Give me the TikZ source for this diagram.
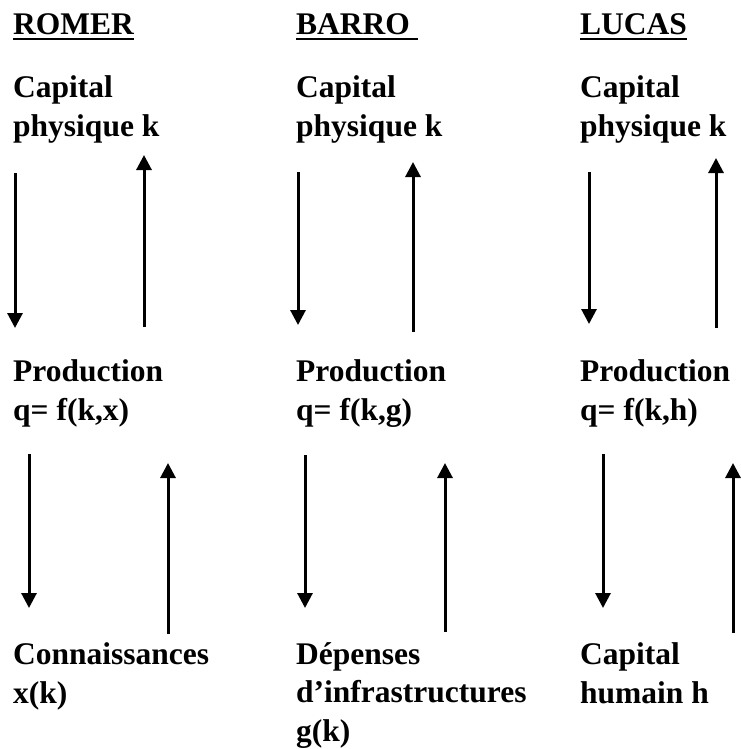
\documentclass[tikz,border=0pt]{standalone}
\usepackage{fontspec}
\setmainfont{Liberation Serif}
\usetikzlibrary{arrows.meta}

\newcommand\souligne[1]{\setbox0\hbox{#1}\rlap{\rule[-5.5pt]{\wd0}{2.6pt}}\box0}

\begin{document}
\begin{tikzpicture}[x=1pt,y=-1pt,
    txt/.style={anchor=base west,inner sep=0pt,align=left,
        font=\bfseries\fontsize{31.5}{38.5}\selectfont},
    fleche/.style={line width=3pt,-{Triangle[width=15pt,length=15pt]}}]
    \useasboundingbox (0,0) rectangle (740,749);

    % titres
    \node[txt] (romer) at (13,35) {\souligne{ROMER}};
    \node[txt] (barro) at (296,35) {\souligne{BARRO~}};
    \node[txt] (lucas) at (580,35) {\souligne{LUCAS}};

    % capital physique (base = derniere ligne)
    \node[txt] (r-k) at (13,136) {Capital\\physique k};
    \node[txt] (b-k) at (296,136) {Capital\\physique k};
    \node[txt] (l-k) at (580,136) {Capital\\physique k};

    % production
    \node[txt] (r-q) at (13,420) {Production\\q= f(k,x)};
    \node[txt] (b-q) at (296,420) {Production\\q= f(k,g)};
    \node[txt] (l-q) at (580,420) {Production\\q= f(k,h)};

    % facteurs
    \node[txt] (r-x) at (13,703) {Connaissances\\x(k)};
    \node[txt] (b-g) at (296,741) {Dépenses\\d’infrastructures\\g(k)};
    \node[txt] (l-h) at (580,703) {Capital\\humain h};

    % ROMER
    \coordinate (r1) at (15,173);  \coordinate (r2) at (15,328);
    \coordinate (r3) at (144,327); \coordinate (r4) at (144,155);
    \coordinate (r5) at (29,454);  \coordinate (r6) at (29,608);
    \coordinate (r7) at (168,634); \coordinate (r8) at (168,463);
    \draw[fleche] (r1) -- (r2);
    \draw[fleche] (r3) -- (r4);
    \draw[fleche] (r5) -- (r6);
    \draw[fleche] (r7) -- (r8);

    % BARRO
    \coordinate (b1) at (298,172); \coordinate (b2) at (298,325);
    \coordinate (b3) at (413,332); \coordinate (b4) at (413,162);
    \coordinate (b5) at (305,455); \coordinate (b6) at (305,608);
    \coordinate (b7) at (445,632); \coordinate (b8) at (445,463);
    \draw[fleche] (b1) -- (b2);
    \draw[fleche] (b3) -- (b4);
    \draw[fleche] (b5) -- (b6);
    \draw[fleche] (b7) -- (b8);

    % LUCAS
    \coordinate (l1) at (589,172); \coordinate (l2) at (589,324);
    \coordinate (l3) at (716,328); \coordinate (l4) at (716,158);
    \coordinate (l5) at (603,454); \coordinate (l6) at (603,608);
    \coordinate (l7) at (733,633); \coordinate (l8) at (733,463);
    \draw[fleche] (l1) -- (l2);
    \draw[fleche] (l3) -- (l4);
    \draw[fleche] (l5) -- (l6);
    \draw[fleche] (l7) -- (l8);
\end{tikzpicture}
\end{document}
